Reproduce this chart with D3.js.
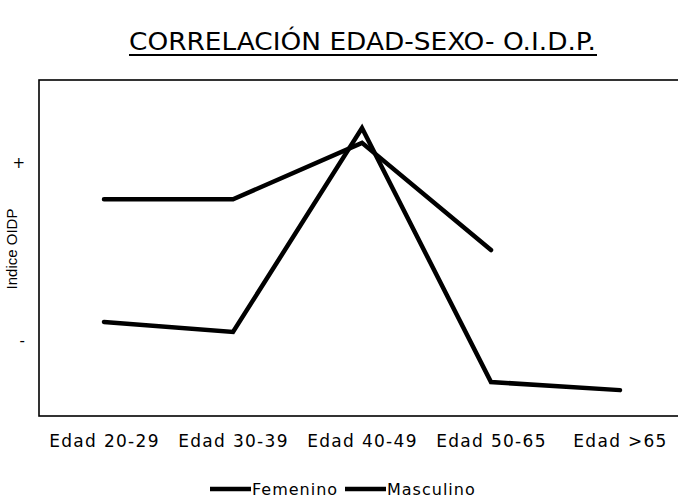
<!DOCTYPE html>
<html>
<head>
<meta charset="utf-8">
<script src="https://cdn.jsdelivr.net/npm/d3@7"></script>
<style>
  body { margin: 0; background: #fff; }
  svg { display: block; }
  .tick-x text { font-family: "DejaVu Sans", sans-serif; font-size: 17px; letter-spacing: 1.3px; fill: #000; }
  .tick-y text { font-family: "DejaVu Sans", sans-serif; font-size: 15px; fill: #000; }
</style>
</head>
<body>
<div id="chart"></div>
<script>
// Data (index on an arbitrary 0-100 scale)
const categories = ["Edad 20-29", "Edad 30-39", "Edad 40-49", "Edad 50-65", "Edad >65"];
const femenino = [64.5, 64.5, 81.3, 49.4, null];
const masculino = [28.0, 25.0, 85.7, 10.1, 7.7];
const yTickValues = [22.5, 75.5];
const yTickLabels = ["-", "+"];
const seriesNames = ["Femenino", "Masculino"];

const W = 678, H = 498;
const box = { left: 39, top: 80, right: 700, bottom: 416 };

const svg = d3.select("#chart").append("svg")
  .attr("width", W)
  .attr("height", H);

// Scales
const x = d3.scalePoint()
  .domain(categories)
  .range([104, 620]);

const y = d3.scaleLinear()
  .domain([0, 100])
  .range([box.bottom, box.top]);

// Title
const title = svg.append("text")
  .attr("x", 129)
  .attr("y", 50)
  .attr("textLength", 467)
  .attr("lengthAdjust", "spacingAndGlyphs")
  .style("font-family", "DejaVu Sans, sans-serif")
  .style("font-size", "24px")
  .text("CORRELACIÓN EDAD-SEXO- O.I.D.P.");

svg.append("line")
  .attr("x1", 129).attr("x2", 597)
  .attr("y1", 55).attr("y2", 55)
  .attr("stroke", "#000")
  .attr("stroke-width", 2);

// Plot frame (right side runs off the picture)
svg.append("rect")
  .attr("x", box.left)
  .attr("y", box.top)
  .attr("width", box.right - box.left)
  .attr("height", box.bottom - box.top)
  .attr("fill", "none")
  .attr("stroke", "#000")
  .attr("stroke-width", 1.6);

// Axes
const xAxis = svg.append("g")
  .attr("class", "tick-x")
  .attr("transform", `translate(0,${box.bottom})`)
  .call(d3.axisBottom(x).tickSize(0).tickPadding(19));
xAxis.select(".domain").remove();

const yAxis = svg.append("g")
  .attr("class", "tick-y")
  .attr("transform", `translate(${box.left},0)`)
  .call(d3.axisLeft(y)
    .tickValues(yTickValues)
    .tickFormat((d, i) => yTickLabels[i])
    .tickSize(0)
    .tickPadding(14));
yAxis.select(".domain").remove();

// Y axis label
svg.append("text")
  .attr("transform", "rotate(-90)")
  .attr("x", -249)
  .attr("y", 17)
  .attr("text-anchor", "middle")
  .style("font-family", "Liberation Sans, sans-serif")
  .style("font-size", "15px")
  .text("Indice OIDP");

// Lines
const line = d3.line()
  .defined(d => d.v != null)
  .x(d => x(d.c))
  .y(d => y(d.v));

[femenino, masculino].forEach(vals => {
  svg.append("path")
    .datum(categories.map((c, i) => ({ c, v: vals[i] })))
    .attr("fill", "none")
    .attr("stroke", "#000")
    .attr("stroke-width", 4.5)
    .attr("stroke-linejoin", "miter")
    .attr("stroke-linecap", "round")
    .attr("d", line);
});

// Legend
const legend = svg.append("g");
const legendX = [210, 345];
seriesNames.forEach((name, i) => {
  const g = legend.append("g").attr("transform", `translate(${legendX[i]},489)`);
  g.append("line")
    .attr("x1", 0).attr("x2", 41)
    .attr("y1", 0).attr("y2", 0)
    .attr("stroke", "#000")
    .attr("stroke-width", 4.5);
  g.append("text")
    .attr("x", 42)
    .attr("y", 6)
    .style("font-family", "DejaVu Sans, sans-serif")
    .style("font-size", "16px")
    .style("letter-spacing", "1px")
    .text(name);
});
</script>
</body>
</html>
